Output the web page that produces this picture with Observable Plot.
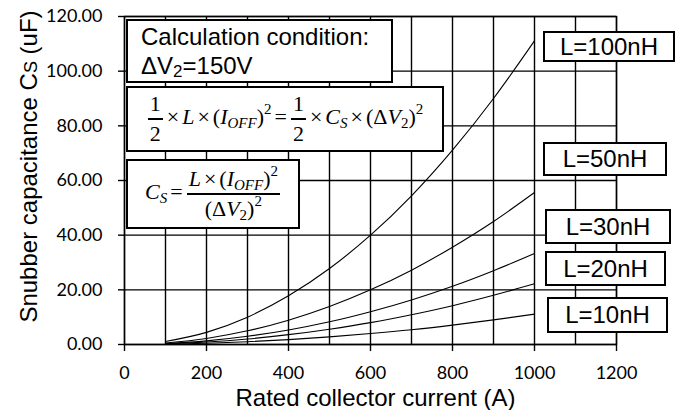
<!DOCTYPE html>
<html>
<head>
<meta charset="utf-8">
<script src="https://cdn.jsdelivr.net/npm/d3@7"></script>
<script src="https://cdn.jsdelivr.net/npm/@observablehq/plot@0.6"></script>
<style>
  html, body { margin: 0; padding: 0; background: #fff; }
  #wrap { position: relative; width: 676px; height: 410px; overflow: hidden; }
  .box { position: absolute; box-sizing: border-box; border: 2px solid #000; background: #fff; color: #000;
         font-family: "Liberation Sans", Arial, sans-serif; }
  .lab { display: flex; align-items: center; justify-content: center; font-size: 24px; }
  .cond { font-size: 24px; line-height: 29px; padding: 1px 0 0 13px; white-space: nowrap; }
  .cond sub { font-size: 17px; vertical-align: -3px; line-height: 0; }
  .math { display: flex; align-items: center; justify-content: center; white-space: nowrap;
          font-family: "Liberation Serif", "DejaVu Serif", serif; font-size: 22px; }
  .math .in { display: inline-block; line-height: 1.2; }
  .math i { font-style: italic; }
  .math sub { font-size: 15px; vertical-align: -4px; line-height: 0; }
  .math sup { font-size: 15px; vertical-align: 10px; line-height: 0; }
  .frac { display: inline-flex; flex-direction: column; align-items: center; vertical-align: middle;
          line-height: 1.1; margin: 0 1px; }
  .frac > span { display: block; }
  .frac > span:first-child { border-bottom: 2px solid #000; padding: 0 2px 2px; }
  .frac > span:last-child { padding: 2px 2px 0; }
  .op { margin: 0 3px; }
</style>
</head>
<body>
<div id="wrap"></div>
<script>
// ---- data ----
const currentA = [100, 200, 300, 400, 500, 600, 700, 800, 900, 1000];
const cs100 = [1.11, 4.44, 10.0, 17.8, 27.8, 40.0, 54.4, 71.1, 90.0, 111.1];
const cs50  = [0.56, 2.22, 5.0, 8.9, 13.9, 20.0, 27.2, 35.6, 45.0, 55.6];
const cs30  = [0.33, 1.33, 3.0, 5.3, 8.3, 12.0, 16.3, 21.3, 27.0, 33.3];
const cs20  = [0.22, 0.89, 2.0, 3.6, 5.6, 8.0, 10.9, 14.2, 18.0, 22.2];
const cs10  = [0.11, 0.44, 1.0, 1.8, 2.8, 4.0, 5.4, 7.1, 9.0, 11.1];
const seriesNames = ["L=100nH", "L=50nH", "L=30nH", "L=20nH", "L=10nH"];
const seriesValues = [cs100, cs50, cs30, cs20, cs10];
const xTicks = [0, 200, 400, 600, 800, 1000, 1200];
const yTicks = [0, 20, 40, 60, 80, 100, 120];
const xGrid = [0, 100, 200, 300, 400, 500, 600, 700, 800, 900, 1000, 1100, 1200];
const xLabel = "Rated collector current (A)";
const yLabel = "Snubber capacitance Cs (uF)";

const rows = seriesNames.flatMap((s, i) =>
  currentA.map((a, j) => ({series: s, current: a, cs: seriesValues[i][j]})));

const chart = Plot.plot({
  width: 676,
  height: 410,
  marginLeft: 124,
  marginRight: 60,
  marginTop: 16,
  marginBottom: 66,
  style: {fontFamily: "Lato, sans-serif", fontSize: "18px", color: "#000", background: "#fff"},
  x: {domain: [0, 1200]},
  y: {domain: [0, 120]},
  marks: [
    Plot.gridX(xGrid, {stroke: "#000", strokeOpacity: 1, strokeWidth: 1.4}),
    Plot.gridY(yTicks, {stroke: "#000", strokeOpacity: 1, strokeWidth: 1.4}),
    Plot.frame({stroke: "#000", strokeWidth: 1.4}),
    Plot.axisX(xTicks, {tickSize: 7, tickPadding: 15, label: null, fontSize: 18,
                        tickFormat: d => String(d), strokeWidth: 1.4}),
    Plot.axisY(yTicks, {tickSize: 6, tickPadding: 16, label: null, fontSize: 18,
                        tickFormat: d3.format(".2f"), strokeWidth: 1.4}),
    Plot.line(rows, {x: "current", y: "cs", z: "series", stroke: "#000", strokeWidth: 1.1,
                     curve: "monotone-x"}),
    Plot.text([xLabel], {frameAnchor: "bottom", dx: 5, dy: 61, lineAnchor: "bottom",
                         fontFamily: "Liberation Sans, Arial, sans-serif", fontSize: 24, fill: "#000"}),
    Plot.text([yLabel], {frameAnchor: "left", rotate: -90, dx: -95, dy: -14, lineAnchor: "middle",
                         textAnchor: "middle",
                         fontFamily: "Liberation Sans, Arial, sans-serif", fontSize: 24, fill: "#000"})
  ]
});

const wrap = document.getElementById("wrap");
wrap.appendChild(chart);

// small-capital "S" in the y label
d3.select(chart).selectAll("text").each(function() {
  if (this.textContent === yLabel) {
    const t = d3.select(this);
    t.text(null);
    t.append("tspan").text("Snubber capacitance C");
    t.append("tspan").attr("font-size", 18).text("S");
    t.append("tspan").text(" (uF)");
  }
});

// annotation boxes (layout only)
function addBox(cls, left, top, right, bottom, html) {
  const d = document.createElement("div");
  d.className = "box " + cls;
  d.style.left = left + "px";
  d.style.top = top + "px";
  d.style.width = (right - left) + "px";
  d.style.height = (bottom - top) + "px";
  d.innerHTML = html;
  wrap.appendChild(d);
}

addBox("cond", 126, 19, 393, 83, "Calculation condition:<br>ΔV<sub>2</sub>=150V");

const half = '<span class="frac"><span>1</span><span>2</span></span>';
addBox("math", 126, 86, 444, 152,
  '<span class="in">' + half +
  '<span class="op">×</span><i>L</i><span class="op">×</span>(<i>I</i><sub><i>OFF</i></sub>)<sup>2</sup>' +
  '<span class="op">=</span>' + half +
  '<span class="op">×</span><i>C</i><sub><i>S</i></sub><span class="op">×</span>(Δ<i>V</i><sub>2</sub>)<sup>2</sup></span>');

addBox("math", 126, 159, 300, 229,
  '<span class="in"><i>C</i><sub><i>S</i></sub><span class="op">=</span>' +
  '<span class="frac"><span><i>L</i><span class="op">×</span>(<i>I</i><sub><i>OFF</i></sub>)<sup>2</sup></span>' +
  '<span>(Δ<i>V</i><sub>2</sub>)<sup>2</sup></span></span></span>');

const labelBoxes = [
  [543, 31, 675, 62],
  [543, 142, 667, 176],
  [545, 209, 671, 244],
  [545, 251, 666, 286],
  [547, 297, 668, 333]
];
seriesNames.forEach((s, i) => {
  const [l, t, r, b] = labelBoxes[i];
  addBox("lab", l, t, r, b, s);
});
</script>
</body>
</html>
